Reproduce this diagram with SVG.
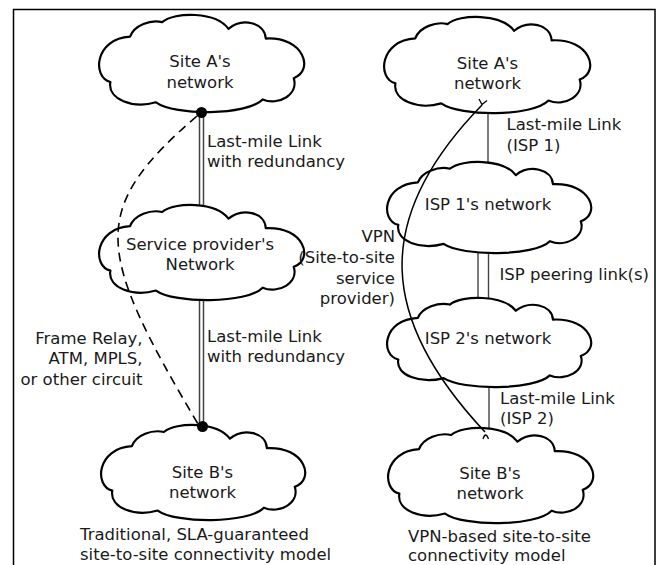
<svg xmlns="http://www.w3.org/2000/svg" xmlns:xlink="http://www.w3.org/1999/xlink" width="658" height="565" viewBox="0 0 658 565">
<style>
.cloud{fill:#fff;stroke:#000;stroke-width:2.2;stroke-linejoin:round}
text{font-family:"DejaVu Sans","Liberation Sans",sans-serif;font-size:16.5px;fill:#1a1a1a}
.c{text-anchor:middle}
.e{text-anchor:end}
.thin{stroke:#444;stroke-width:1.4;fill:none}
</style>
<defs>
<path id="cloudShape" vector-effect="non-scaling-stroke" d="M13,67 C-5,62 -2,22 32,20 C36,8 52,2 63,5 C75,-6 115,-6 127,12 C140,0 162,5 163,22 C200,20 210,55 190,63 C195,80 175,92 160,85 C145,102 75,102 57,88 C35,95 10,85 13,67 Z"/>
</defs>
<rect x="13.5" y="9.5" width="641.5" height="600" fill="#fff" stroke="#000" stroke-width="1.5"/>

<g id="connectors">
  <line x1="201.5" y1="112" x2="201.5" y2="427" stroke="#444" stroke-width="5.5"/>
  <line x1="201.5" y1="112" x2="201.5" y2="427" stroke="#fff" stroke-width="2.5"/>
  <line class="thin" x1="488" y1="112" x2="488" y2="163"/>
  <line class="thin" x1="478" y1="250" x2="478" y2="302"/>
  <line class="thin" x1="488.5" y1="250" x2="488.5" y2="302"/>
  <line class="thin" x1="489" y1="386" x2="489" y2="431"/>
</g>

<g id="siteA-left"><use xlink:href="#cloudShape" class="cloud" transform="translate(96.9,17.3) scale(1.036,0.966)"/>
  <text class="c" x="200" y="67">Site A's</text><text class="c" x="200" y="88">network</text></g>
<g id="provider"><use xlink:href="#cloudShape" class="cloud" transform="translate(96.9,207.3) scale(1.036,0.946)"/>
  <text class="c" x="200" y="249.5">Service provider's</text><text class="c" x="200" y="270">Network</text></g>
<g id="siteB-left"><use xlink:href="#cloudShape" class="cloud" transform="translate(98.9,427.3) scale(1.031,0.946)"/>
  <text class="c" x="202.5" y="477.5">Site B's</text><text class="c" x="202.5" y="497.5">network</text></g>

<g id="siteA-right"><use xlink:href="#cloudShape" class="cloud" transform="translate(381.9,19.3) scale(1.041,0.956)"/>
  <text class="c" x="487.5" y="68.5">Site A's</text><text class="c" x="487.5" y="88.5">network</text></g>
<g id="isp1"><use xlink:href="#cloudShape" class="cloud" transform="translate(384.9,164.2) scale(1.031,0.906)"/>
  <text class="c" x="488" y="209.5">ISP 1's network</text></g>
<g id="isp2"><use xlink:href="#cloudShape" class="cloud" transform="translate(384.9,300.1) scale(1.031,0.886)"/>
  <text class="c" x="488" y="344">ISP 2's network</text></g>
<g id="siteB-right"><use xlink:href="#cloudShape" class="cloud" transform="translate(385.9,430.3) scale(1.036,0.946)"/>
  <text class="c" x="490" y="479">Site B's</text><text class="c" x="490" y="499">network</text></g>

<g id="overlay-connectors">
  <path d="M197,116 C88,210 95,250 198,424" fill="none" stroke="#000" stroke-width="1.6" stroke-dasharray="9,6"/>
  <circle cx="201.5" cy="112.5" r="5.5" fill="#000"/>
  <circle cx="202.5" cy="426.5" r="5.5" fill="#000"/>
  <path d="M482,105 C370,220 380,320 485,432" fill="none" stroke="#000" stroke-width="1.5"/>
  <path d="M479,99 L482,104.5 L487,100.5" fill="none" stroke="#000" stroke-width="1.3"/>
  <path d="M483,439 Q485.5,431 488.5,439" fill="none" stroke="#000" stroke-width="1.3"/>
</g>

<g id="labels">
  <text x="207" y="147">Last-mile Link</text>
  <text x="207" y="167">with redundancy</text>
  <text x="207" y="342">Last-mile Link</text>
  <text x="207" y="362">with redundancy</text>
  <text class="e" x="142.5" y="343.5">Frame Relay,</text>
  <text class="e" x="142.5" y="364">ATM, MPLS,</text>
  <text class="e" x="142.5" y="385">or other circuit</text>
  <text x="506.5" y="129.5">Last-mile Link</text>
  <text x="506.5" y="150.5">(ISP 1)</text>
  <text x="499.5" y="280">ISP peering link(s)</text>
  <text class="e" x="395" y="242">VPN</text>
  <text class="e" x="395" y="263">(Site-to-site</text>
  <text class="e" x="395" y="284">service</text>
  <text class="e" x="395" y="304">provider)</text>
  <text x="500" y="403.5">Last-mile Link</text>
  <text x="500" y="424">(ISP 2)</text>
  <text x="80" y="539.5">Traditional, SLA-guaranteed</text>
  <text x="80" y="559.5">site-to-site connectivity model</text>
  <text x="408" y="541.5">VPN-based site-to-site</text>
  <text x="408" y="561">connectivity model</text>
</g>
</svg>
